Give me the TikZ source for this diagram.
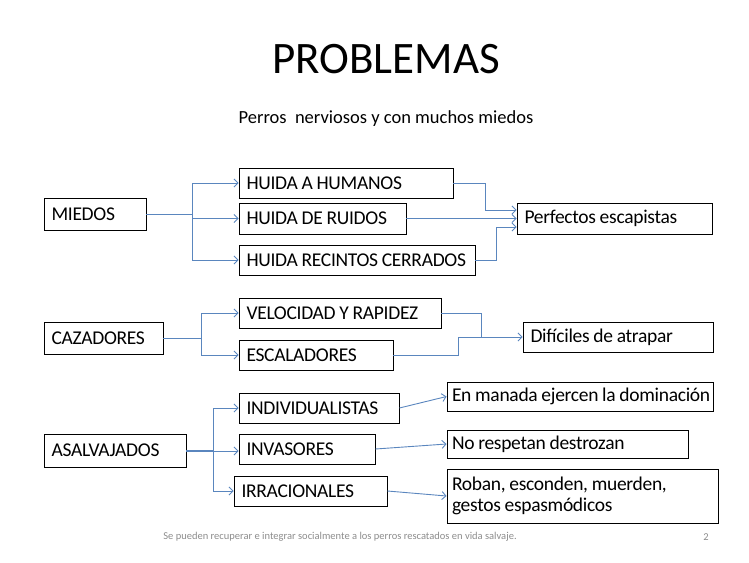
\documentclass[tikz,border=0pt]{standalone}
\usepackage{fontspec}
\setmainfont{Carlito}
\newfontfamily\cajafont{Carlito}[WordSpace=0.9, LetterSpace=-1.5]
\usetikzlibrary{arrows.meta}
\definecolor{azul}{HTML}{5A86BE}
\definecolor{gris}{HTML}{8C8C8C}
\tikzset{
caja/.style={
	  draw, line width=0.9pt, inner xsep=7.5pt, inner ysep=0pt,
	    align=flush left, minimum height=30pt,
    font=\cajafont\fontsize{19.5}{21}\selectfont},
linea/.style={draw=azul, line width=0.9pt},
flecha/.style={linea, -{Straight Barb[length=4pt,width=8pt]}}
}

\begin{document}
\begin{tikzpicture}[x=1pt, y=-1pt]
	\useasboundingbox (0,0) rectangle (749,562);
	\node[anchor=base, font=\fontsize{45}{50}\selectfont] (titulo) at (386,73) {PROBLEMAS};
	\node[anchor=base, font=\fontsize{18.5}{20}\selectfont] (subtitulo) at (386,123) {Perros\ \ nerviosos y con muchos miedos};
	% miedos
	\node[caja, text width=87, minimum height=32] (miedos) at (95,214) {MIEDOS};
	\node[caja, text width=199] (humanos) at (346,183) {HUIDA A HUMANOS};
	\node[caja, text width=152, minimum height=31] (ruidos) at (322.5,218.5) {HUIDA DE RUIDOS};
	\node[caja, text width=221] (recintos) at (357,260) {\mbox{HUIDA RECINTOS CERRADOS}};
	\node[caja, text width=180, minimum height=31] (perfectos) at (614.5,218.5) {Perfectos escapistas};
	\coordinate (mb) at (192,214);
	\draw[linea] (miedos.east) -- (mb);
	\draw[linea] (mb |- humanos.west) -- (mb |- recintos.west);
	\draw[flecha] (mb |- humanos.west) -- (humanos.west);
	\draw[flecha] (mb |- ruidos.west) -- (ruidos.west);
	\draw[flecha] (mb |- recintos.west) -- (recintos.west);
	\coordinate (p1) at (485,210);
	\coordinate (p3) at (496,227);
	\draw[flecha] (humanos.east) -| (p1) -- (p1 -| perfectos.west);
	\draw[flecha] (ruidos.east) -- (ruidos.east -| perfectos.west);
	\draw[flecha] (recintos.east) -| (p3) -- (p3 -| perfectos.west);
	% cazadores
	\node[caja, text width=104, minimum height=32] (cazadores) at (103.5,338) {CAZADORES};
	\node[caja, text width=187] (velocidad) at (340,313) {VELOCIDAD Y RAPIDEZ};
	\node[caja, text width=139] (escaladores) at (316,355) {ESCALADORES};
	\node[caja, text width=175] (dificiles) at (618,337) {Difíciles de atrapar};
	\coordinate (cb) at (201,338);
	\draw[linea] (cazadores.east) -- (cb);
	\draw[linea] (cb |- velocidad.west) -- (cb |- escaladores.west);
	\draw[flecha] (cb |- velocidad.west) -- (velocidad.west);
	\draw[flecha] (cb |- escaladores.west) -- (escaladores.west);
	\coordinate (d1) at (481,337);
	\coordinate (d2) at (458,337);
	\draw[linea] (velocidad.east) -| (d1);
	\draw[flecha] (escaladores.east) -| (d2) -- (dificiles.west);
	% asalvajados
	\node[caja, text width=127, minimum height=33] (asalvajados) at (115,450.5) {ASALVAJADOS};
	\node[caja, text width=145] (individualistas) at (319,408) {INDIVIDUALISTAS};
	\node[caja, text width=121] (invasores) at (307,449) {INVASORES};
	\node[caja, text width=138] (irracionales) at (310.5,491) {IRRACIONALES};
	\node[caja, text width=256, inner xsep=5pt, minimum height=29] (manada) at (580,396.5) {\mbox{En manada ejercen la dominación}};
	\node[caja, text width=231, inner xsep=5pt, minimum height=28] (respetan) at (567.5,444) {No respetan destrozan};
	\node[caja, text width=261, inner xsep=5pt, minimum height=54] (roban) at (582.5,496) {Roban, esconden, muerden,\\gestos espasmódicos};
	\coordinate (ab) at (213,451);
	\draw[linea, line width=1.6pt] (asalvajados.east |- ab) -- (ab);
	\draw[linea] (ab |- individualistas.west) -- (ab |- irracionales.west);
	\draw[flecha] (ab |- individualistas.west) -- (individualistas.west);
	\draw[flecha] (ab) -- (ab -| invasores.west);
	\draw[flecha] (ab |- irracionales.west) -- (irracionales.west);
	\draw[flecha] (individualistas.east) -- (manada.west);
	\draw[flecha] (invasores.east) -- (respetan.west);
	\draw[flecha] (irracionales.east) -- (roban.west);
	% pie
	\node[font=\fontsize{10.5}{12}\selectfont, text=gris] (pie) at (340,537) {Se pueden recuperar e integrar socialmente a los perros rescatados en vida salvaje.};
	\node[font=\fontsize{10.5}{12}\selectfont, text=gris] (pagina) at (706,537) {2};
\end{tikzpicture}
\end{document}
